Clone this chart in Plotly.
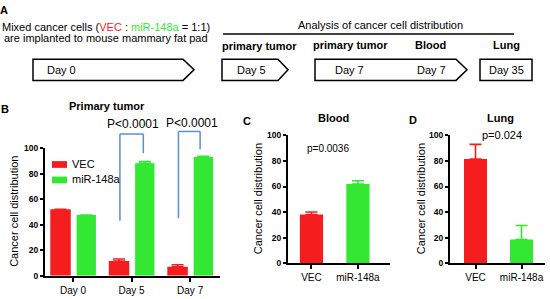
import plotly.graph_objects as go

# ---------------- data ----------------
days = ["Day 0", "Day 5", "Day 7"]
b_vec = [52, 11.5, 7]
b_vec_err = [0, 1.5, 1.5]
b_mir = [47.5, 88, 93]
b_mir_err = [0, 1.5, 0.5]

groups = ["VEC", "miR-148a"]
c_vals = [38, 62]
c_err = [2, 2.5]
d_vals = [81.5, 18.5]
d_err = [11.5, 11]

y_ticks = [0, 20, 40, 60, 80, 100]
p_b = ["P<0.0001", "P<0.0001"]
p_c = "p=0.0036"
p_d = "p=0.024"

RED = "#f51d1d"
GREEN = "#33e833"
BLUE = "#5b8fd0"
FONT = "Liberation Sans, Arial, sans-serif"

W, H = 550, 299
def px(x): return x / W
def py(y): return 1 - y / H

fig = go.Figure()

def err(vals, color):
    return dict(type="data", symmetric=False, array=vals, arrayminus=[0] * len(vals),
                thickness=1.6, width=6, color=color)

# Panel B
fig.add_trace(go.Bar(x=days, y=b_vec, name=groups[0], marker=dict(color=RED, line=dict(width=0)),
                     offset=-0.39, width=0.35, error_y=err(b_vec_err, RED),
                     xaxis="x", yaxis="y"))
fig.add_trace(go.Bar(x=days, y=b_mir, name=groups[1], marker=dict(color=GREEN, line=dict(width=0)),
                     offset=0.06, width=0.33, error_y=err(b_mir_err, GREEN),
                     xaxis="x", yaxis="y"))
# Panel C
fig.add_trace(go.Bar(x=[groups[0]], y=[c_vals[0]], marker=dict(color=RED, line=dict(width=0)),
                     offset=-0.25, width=0.5, error_y=err([c_err[0]], RED), xaxis="x2", yaxis="y2"))
fig.add_trace(go.Bar(x=[groups[1]], y=[c_vals[1]], marker=dict(color=GREEN, line=dict(width=0)),
                     offset=-0.25, width=0.5, error_y=err([c_err[1]], GREEN), xaxis="x2", yaxis="y2"))
# Panel D
fig.add_trace(go.Bar(x=[groups[0]], y=[d_vals[0]], marker=dict(color=RED, line=dict(width=0)),
                     offset=-0.25, width=0.5, error_y=err([d_err[0]], RED), xaxis="x3", yaxis="y3"))
fig.add_trace(go.Bar(x=[groups[1]], y=[d_vals[1]], marker=dict(color=GREEN, line=dict(width=0)),
                     offset=-0.25, width=0.5, error_y=err([d_err[1]], GREEN), xaxis="x3", yaxis="y3"))

B_X = (45, 220); B_Y = (148, 280)
C_X = (288, 390); C_Y = (135, 267)
D_X = (450, 545); D_Y = (135, 267)

def xax(dom, rng, anchor, cats):
    return dict(domain=[px(dom[0]), px(dom[1])], range=rng, anchor=anchor, type="category",
                categoryorder="array", categoryarray=cats,
                showline=True, linecolor="black", linewidth=2, ticks="outside", ticklen=4,
                tickwidth=2, tickcolor="black", showgrid=False, zeroline=False,
                tickfont=dict(family=FONT, size=10, color="black"), fixedrange=True)

def yax(dom, anchor):
    return dict(domain=[py(dom[1]), py(dom[0])], range=[0, 100], anchor=anchor,
                tickvals=y_ticks, showline=True, linecolor="black", linewidth=2,
                ticks="outside", ticklen=3, tickwidth=2, tickcolor="black",
                showgrid=False, zeroline=False, fixedrange=True,
                tickfont=dict(family=FONT, size=8.5, color="black", weight="bold"))

fig.update_layout(
    width=W, height=H, margin=dict(l=0, r=0, t=0, b=0),
    paper_bgcolor="white", plot_bgcolor="white",
    xaxis=xax(B_X, [-0.48, 2.51], "y", days),
    yaxis=yax(B_Y, "x"),
    xaxis2=xax(C_X, [-0.505, 1.69], "y2", groups),
    yaxis2=yax(C_Y, "x2"),
    xaxis3=xax(D_X, [-0.554, 1.51], "y3", groups),
    yaxis3=yax(D_Y, "x3"),
    showlegend=False,
)

annotations = []
def txt(x, y, s, size=11, bold=False, color="black", xanchor="center", angle=0):
    annotations.append(dict(x=px(x), y=py(y), xref="paper", yref="paper", text=s, showarrow=False,
                            xanchor=xanchor, yanchor="middle", textangle=angle,
                            font=dict(family=FONT, size=size, color=color,
                                      weight="bold" if bold else "normal")))

# Panel letters
txt(4, 5, "A", 11, True)
txt(5, 108, "B", 11, True)
txt(247, 120, "C", 11, True)
txt(413, 119, "D", 11, True)

# Panel A texts
txt(0, 23, 'Mixed cancer cells (<span style="color:%s">VEC</span> : <span style="color:%s">miR-148a</span> = 1:1)' % (RED, GREEN), 11, xanchor="left")
txt(2, 34, "are implanted to mouse mammary fat pad", 11, xanchor="left")
txt(380, 21, "Analysis of cancer cell distribution", 11)
txt(259, 42, "primary tumor", 11, True)
txt(350, 41, "primary tumor", 11, True)
txt(430, 41, "Blood", 11, True)
txt(506, 41, "Lung", 11, True)
txt(61, 67, "Day 0", 11)
txt(251, 67, "Day 5", 11)
txt(349, 67, "Day 7", 11)
txt(431, 67, "Day 7", 11)
txt(506, 67, "Day 35", 11)

# Panel titles
txt(107, 104, "Primary tumor", 11, True)
txt(333, 117, "Blood", 11, True)
txt(500, 117, "Lung", 11, True)

# Y titles
txt(14, 214, "Cancer cell distribution", 11, angle=-90)
txt(258, 201, "Cancer cell distribution", 11, angle=-90)
txt(421, 201, "Cancer cell distribution", 11, angle=-90)

# manual legend (panel B)
legend_shapes = []
for i, (name, col) in enumerate(zip(groups, [RED, GREEN])):
    yc = 165 + i * 16
    legend_shapes.append(dict(type="rect", xref="paper", yref="paper", x0=px(52), x1=px(67),
                              y0=py(yc - 3.5), y1=py(yc + 3.5), fillcolor=col, line=dict(width=0)))
    txt(70, yc - 1, name, 11, xanchor="left")

def yv(v, dom):  # data value -> paper y for a panel
    return py(dom[1]) + v / 100 * (py(dom[0]) - py(dom[1]))

annotations.append(dict(x=1.03, y=yv(119, B_Y), xref="x", yref="paper", text=p_b[0], showarrow=False,
                        font=dict(family=FONT, size=12, color="black")))
annotations.append(dict(x=2.03, y=yv(120, B_Y), xref="x", yref="paper", text=p_b[1], showarrow=False,
                        font=dict(family=FONT, size=12, color="black")))
annotations.append(dict(x=0.35, y=yv(90, C_Y), xref="x2", yref="paper", text=p_c, showarrow=False,
                        font=dict(family=FONT, size=10, color="black")))
annotations.append(dict(x=0.58, y=yv(100, D_Y), xref="x3", yref="paper", text=p_d, showarrow=False,
                        font=dict(family=FONT, size=11, color="black")))
fig.update_layout(annotations=annotations)

shapes = list(legend_shapes)
# brackets in panel B
for (xl, xr, ytop, yleft, yright) in [(0.8, 1.2, 111, 43, 96), (1.8, 2.17, 113, 45, 99)]:
    for (x0, y0, x1, y1) in [(xl, yleft, xl, ytop), (xl, ytop, xr, ytop), (xr, ytop, xr, yright)]:
        shapes.append(dict(type="line", xref="x", yref="paper", x0=x0, x1=x1,
                           y0=yv(y0, B_Y), y1=yv(y1, B_Y), line=dict(color=BLUE, width=1.5)))

def poly(pts):
    p = "M " + " L ".join("%f,%f" % (px(a), py(b)) for a, b in pts) + " Z"
    shapes.append(dict(type="path", xref="paper", yref="paper", path=p,
                       line=dict(color="black", width=1.5), fillcolor="rgba(0,0,0,0)"))

poly([(33, 56), (183, 56), (194, 67), (183, 78), (33, 78)])
poly([(222, 56), (278, 56), (288, 67), (278, 78), (222, 78)])
poly([(315, 56), (456, 56), (467, 67), (456, 78), (315, 78)])
poly([(480, 56), (532, 56), (532, 78), (480, 78)])
shapes.append(dict(type="line", xref="paper", yref="paper", x0=px(223), x1=px(514), y0=py(30), y1=py(30),
                   line=dict(color="black", width=1.5)))
fig.update_layout(shapes=shapes)

fig.write_html("out.html", config={"displayModeBar": False, "staticPlot": True},
               post_script="document.body.style.margin='0';document.body.style.overflow='hidden';")
